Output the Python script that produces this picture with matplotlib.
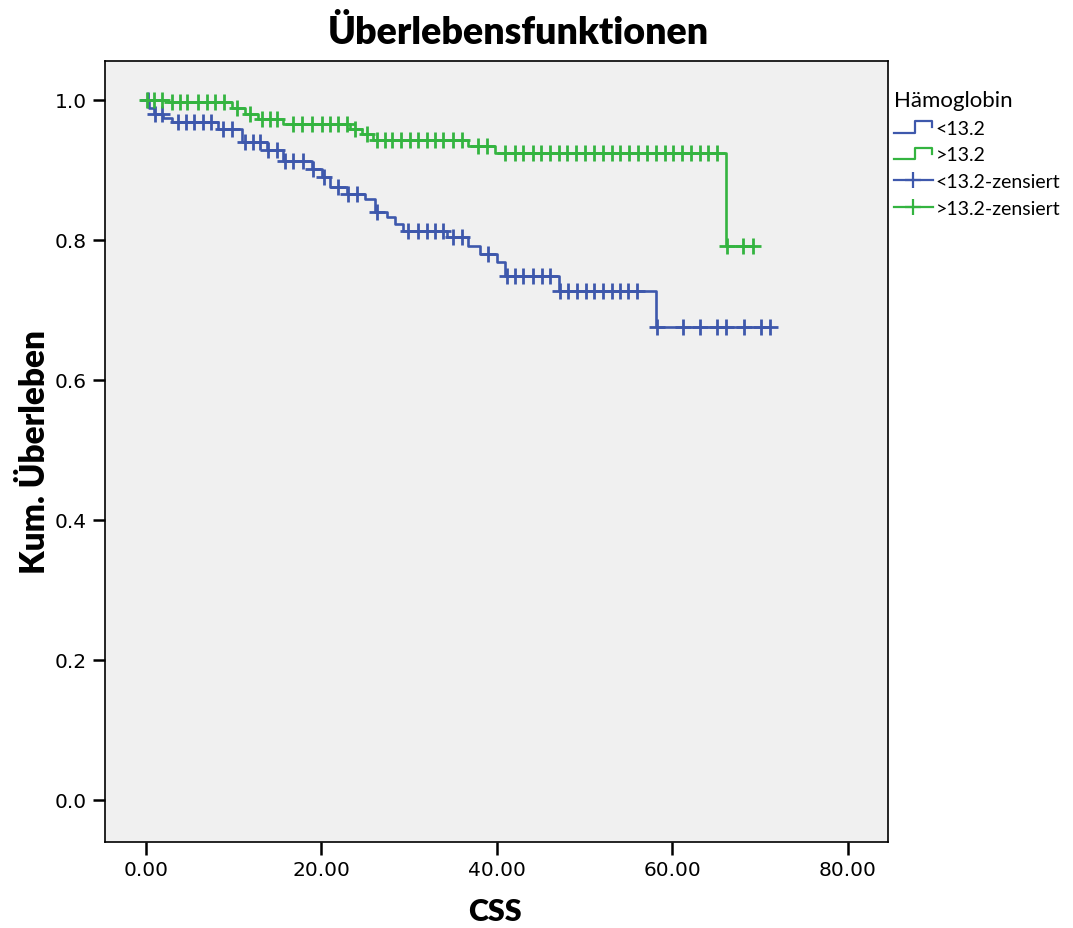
import numpy as np
import matplotlib
matplotlib.use("Agg")
import matplotlib.pyplot as plt
from matplotlib.lines import Line2D
from matplotlib.legend_handler import HandlerBase

# ---------------- data ----------------
title = "Überlebensfunktionen"
xlabel = "CSS"
ylabel = "Kum. Überleben"
legend_title = "Hämoglobin"
group_labels = ["<13.2", ">13.2"]
censor_labels = ["<13.2-zensiert", ">13.2-zensiert"]

x_ticks = [0, 20, 40, 60, 80]
y_ticks = [0.0, 0.2, 0.4, 0.6, 0.8, 1.0]

# group <13.2 (blue)
blue_step_times = [0.4, 0.9, 1.9, 3.0, 8.2, 10.9, 13.8, 15.6, 18.9, 20.1, 21.0, 22.9,
                   25.0, 26.1, 27.5, 28.4, 29.3, 34.3, 36.7, 38.1, 40.0, 40.9, 47.1, 58.1]
blue_levels = [0.988, 0.980, 0.974, 0.969, 0.959, 0.940, 0.928, 0.913, 0.901, 0.890,
               0.875, 0.866, 0.859, 0.840, 0.833, 0.823, 0.813, 0.804, 0.791, 0.780,
               0.769, 0.749, 0.727, 0.676]
blue_censor = [0.2, 1.0, 1.8, 3.6, 4.6, 5.5, 6.5, 7.4, 8.8, 9.8, 11.3, 12.2, 13.0, 13.9,
               14.9, 15.8, 16.8, 17.9, 19.0, 20.3, 21.9, 23.0, 24.0, 26.3, 29.9, 31.0,
               32.0, 32.9, 33.8, 35.0, 36.0, 39.0, 41.1, 42.1, 43.0, 44.1, 45.1, 46.0,
               47.2, 48.1, 49.1, 50.1, 51.1, 52.1, 53.1, 54.0, 54.9, 55.9, 58.2, 61.2,
               63.1, 65.1, 66.1, 68.1, 70.1, 71.1]

# group >13.2 (green)
green_step_times = [2.5, 9.8, 11.3, 12.8, 15.6, 23.2, 24.6, 25.9, 36.7, 39.8, 66.1]
green_levels = [0.997, 0.988, 0.980, 0.973, 0.966, 0.959, 0.951, 0.943, 0.934, 0.924, 0.791]
green_censor = [0.1, 0.9, 1.8, 3.0, 3.9, 4.7, 5.9, 7.0, 7.9, 8.9, 10.4, 11.9, 13.2, 14.1,
                14.9, 16.8, 17.8, 18.9, 20.1, 21.0, 21.9, 22.9, 23.8, 25.2, 26.3, 27.2,
                28.0, 29.1, 30.1, 31.0, 32.0, 32.9, 33.9, 35.0, 36.0, 37.8, 38.9, 40.9,
                42.1, 43.0, 44.1, 45.0, 46.0, 47.1, 48.0, 49.0, 50.0, 51.1, 52.1, 53.1,
                54.0, 55.1, 56.1, 57.1, 58.1, 59.1, 60.1, 61.1, 62.1, 63.1, 64.0, 65.1,
                66.2, 68.0, 69.2]

blue_color = "#3E58AC"
green_color = "#34B440"

# ---------------- helpers ----------------
def step_curve(times, levels, end):
    xs = [0.0] + list(times) + [end]
    ys = [1.0] + list(levels) + [levels[-1]]
    return xs, ys

def surv_at(times, levels, t):
    idx = np.searchsorted(np.asarray(times), t, side="right")
    vals = np.concatenate([[1.0], levels])
    return vals[idx]

class StepHandler(HandlerBase):
    def create_artists(self, legend, orig_handle, xdescent, ydescent, width, height,
                       fontsize, trans):
        x0 = -xdescent
        y0 = -ydescent
        xs = [x0, x0 + 0.55 * width, x0 + 0.55 * width, x0 + 0.97 * width, x0 + 0.97 * width]
        ys = [y0 + 0.05 * height, y0 + 0.05 * height, y0 + 0.95 * height,
              y0 + 0.95 * height, y0 + 0.45 * height]
        ln = Line2D(xs, ys, color=orig_handle.get_color(), lw=1.6)
        ln.set_transform(trans)
        return [ln]

# ---------------- figure ----------------
W, H = 1073, 929
fig = plt.figure(figsize=(W / 100, H / 100), dpi=100)
fig.patch.set_facecolor("white")
ax = fig.add_axes([105 / W, 1 - 843 / H, (888 - 105) / W, (843 - 62) / H])
ax.set_facecolor("#F0F0F0")

for times, levels, cens, col in [(blue_step_times, blue_levels, blue_censor, blue_color),
                                 (green_step_times, green_levels, green_censor, green_color)]:
    xs, ys = step_curve(times, levels, cens[-1])
    ax.step(xs, ys, where="post", color=col, lw=1.9, zorder=3)
    cy = surv_at(times, levels, np.asarray(cens))
    ax.plot(cens, cy, linestyle="none", marker="+", markersize=12, markeredgewidth=2.0,
            color=col, zorder=4)

ax.set_xlim(-4.67, 84.56)
ax.set_ylim(-0.06, 1.0557)
ax.set_xticks(x_ticks)
ax.set_xticklabels([f"{v:.2f}" for v in x_ticks])
ax.set_yticks(y_ticks)
ax.set_yticklabels([f"{v:.1f}" for v in y_ticks])
ax.tick_params(axis="both", direction="out", length=9, width=1.8, labelsize=14.5, pad=4,
               colors="black")
for s in ax.spines.values():
    s.set_linewidth(1.2)
    s.set_color("black")

fig.text(518 / W, 1 - 33 / H, title, ha="center", va="center", fontsize=27,
         fontweight="heavy", family="Lato")
fig.text(495 / W, 1 - 912 / H, xlabel, ha="center", va="center", fontsize=22,
         fontweight="heavy", family="Lato")
fig.text(35 / W, 1 - 452 / H, ylabel, ha="center", va="center", fontsize=24,
         fontweight="heavy", family="Lato", rotation=90)

handles = [Line2D([], [], color=blue_color), Line2D([], [], color=green_color),
           Line2D([], [], color=blue_color, marker="+", markersize=11, markeredgewidth=1.6, lw=1.6),
           Line2D([], [], color=green_color, marker="+", markersize=11, markeredgewidth=1.6, lw=1.6)]
labels = group_labels + censor_labels
leg = fig.legend(handles, labels, title=legend_title, loc="upper left",
                 bbox_to_anchor=(890 / W, 1 - 87 / H), frameon=False,
                 handler_map={handles[0]: StepHandler(), handles[1]: StepHandler()},
                 prop={"family": "Lato", "size": 14},
                 title_fontproperties={"family": "Lato", "size": 16},
                 handlelength=2.0, handleheight=0.65, handletextpad=0.15, labelspacing=0.5,
                 borderaxespad=0, borderpad=0.2, alignment="left")

fig.savefig("out.png", dpi=100)
